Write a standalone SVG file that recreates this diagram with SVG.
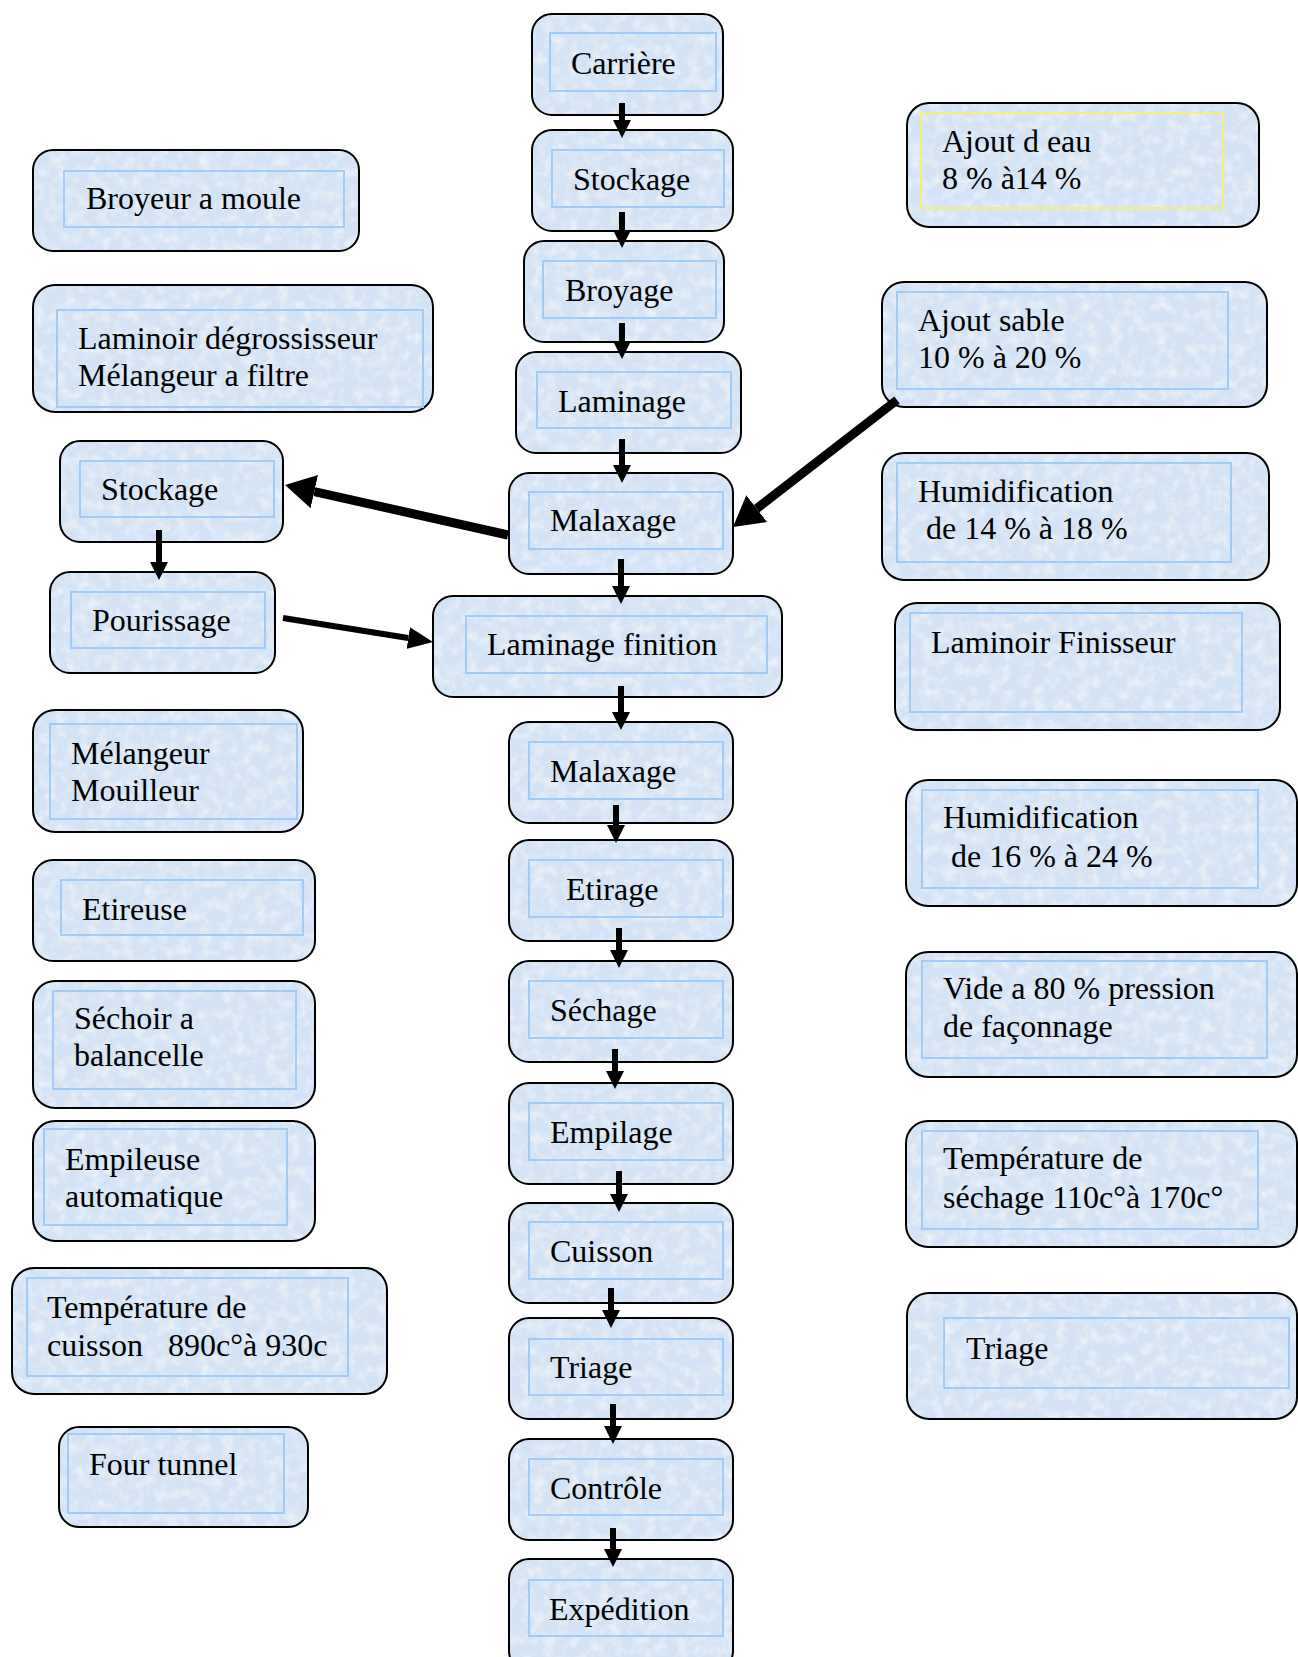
<svg xmlns="http://www.w3.org/2000/svg" width="1298" height="1657" viewBox="0 0 1298 1657">
<style>
  .box { fill: #d3e2f4; stroke: none; filter: url(#tex); }
  .edge { fill: none; stroke: #000; stroke-width: 2; }
  .in { fill: none; stroke: #9fccf7; stroke-width: 2; }
  .iny { fill: none; stroke: #f4ef7a; stroke-width: 2; }
  text { font-family: "Liberation Serif", "Times New Roman", serif; font-size: 32px; fill: #000; }
  .sm { stroke: #000; stroke-width: 6; fill: none; }
  .md { stroke: #000; stroke-width: 6; fill: none; }
  .bg { stroke: #000; stroke-width: 9; fill: none; }
</style>
<defs>
  <filter id="tex" x="0" y="0" width="100%" height="100%">
    <feTurbulence type="fractalNoise" baseFrequency="0.09" numOctaves="3" seed="7" result="n"/>
    <feColorMatrix in="n" type="matrix" values="0 0 0 0 1  0 0 0 0 1  0 0 0 0 1  0 0 0 1.1 -0.45" result="w"/>
    <feComposite in="w" in2="SourceAlpha" operator="in" result="wc"/>
    <feMerge><feMergeNode in="SourceGraphic"/><feMergeNode in="wc"/></feMerge>
  </filter>
  <marker id="hs" markerUnits="userSpaceOnUse" markerWidth="18" markerHeight="18" viewBox="0 0 18 18" refX="0" refY="9" orient="auto">
    <path d="M0,0 L18,9 L0,18 z" fill="#000"/>
  </marker>
  <marker id="hm" markerUnits="userSpaceOnUse" markerWidth="25" markerHeight="22" viewBox="0 0 25 22" refX="0" refY="11" orient="auto">
    <path d="M0,0 L25,11 L0,22 z" fill="#000"/>
  </marker>
  <marker id="hb" markerUnits="userSpaceOnUse" markerWidth="30" markerHeight="34" viewBox="0 0 30 34" refX="0" refY="17" orient="auto">
    <path d="M0,0 L30,17 L0,34 z" fill="#000"/>
  </marker>
</defs>
<rect width="1298" height="1657" fill="#fff"/>

<!-- center column -->
<g id="carriere"><rect class="box" x="532" y="14" width="191" height="101" rx="20"/><rect class="edge" x="532" y="14" width="191" height="101" rx="20"/><rect class="in" x="550" y="33" width="166" height="58"/><text x="571" y="74">Carrière</text></g>
<g id="stockage1"><rect class="box" x="532" y="130" width="201" height="101" rx="20"/><rect class="edge" x="532" y="130" width="201" height="101" rx="20"/><rect class="in" x="552" y="150" width="172" height="57"/><text x="573" y="190">Stockage</text></g>
<g id="broyage"><rect class="box" x="524" y="241" width="200" height="101" rx="20"/><rect class="edge" x="524" y="241" width="200" height="101" rx="20"/><rect class="in" x="543" y="261" width="173" height="57"/><text x="565" y="301">Broyage</text></g>
<g id="laminage"><rect class="box" x="516" y="352" width="225" height="101" rx="20"/><rect class="edge" x="516" y="352" width="225" height="101" rx="20"/><rect class="in" x="537" y="372" width="194" height="56"/><text x="558" y="412">Laminage</text></g>
<g id="malaxage1"><rect class="box" x="509" y="473" width="224" height="101" rx="20"/><rect class="edge" x="509" y="473" width="224" height="101" rx="20"/><rect class="in" x="529" y="492" width="194" height="57"/><text x="550" y="531">Malaxage</text></g>
<g id="laminage-finition"><rect class="box" x="433" y="596" width="349" height="101" rx="20"/><rect class="edge" x="433" y="596" width="349" height="101" rx="20"/><rect class="in" x="466" y="616" width="301" height="57"/><text x="487" y="655">Laminage finition</text></g>
<g id="malaxage2"><rect class="box" x="509" y="722" width="224" height="101" rx="20"/><rect class="edge" x="509" y="722" width="224" height="101" rx="20"/><rect class="in" x="529" y="742" width="194" height="57"/><text x="550" y="782">Malaxage</text></g>
<g id="etirage"><rect class="box" x="509" y="840" width="224" height="101" rx="20"/><rect class="edge" x="509" y="840" width="224" height="101" rx="20"/><rect class="in" x="529" y="860" width="194" height="57"/><text x="566" y="900">Etirage</text></g>
<g id="sechage"><rect class="box" x="509" y="961" width="224" height="101" rx="20"/><rect class="edge" x="509" y="961" width="224" height="101" rx="20"/><rect class="in" x="529" y="981" width="194" height="57"/><text x="550" y="1021">Séchage</text></g>
<g id="empilage"><rect class="box" x="509" y="1083" width="224" height="101" rx="20"/><rect class="edge" x="509" y="1083" width="224" height="101" rx="20"/><rect class="in" x="529" y="1103" width="194" height="57"/><text x="550" y="1143">Empilage</text></g>
<g id="cuisson"><rect class="box" x="509" y="1203" width="224" height="100" rx="20"/><rect class="edge" x="509" y="1203" width="224" height="100" rx="20"/><rect class="in" x="529" y="1222" width="194" height="57"/><text x="550" y="1262">Cuisson</text></g>
<g id="triage1"><rect class="box" x="509" y="1318" width="224" height="101" rx="20"/><rect class="edge" x="509" y="1318" width="224" height="101" rx="20"/><rect class="in" x="529" y="1339" width="194" height="56"/><text x="550" y="1378">Triage</text></g>
<g id="controle"><rect class="box" x="509" y="1439" width="224" height="101" rx="20"/><rect class="edge" x="509" y="1439" width="224" height="101" rx="20"/><rect class="in" x="529" y="1459" width="194" height="56"/><text x="550" y="1499">Contrôle</text></g>
<g id="expedition"><rect class="box" x="509" y="1559" width="224" height="112" rx="20"/><rect class="edge" x="509" y="1559" width="224" height="112" rx="20"/><rect class="in" x="529" y="1580" width="194" height="56"/><text x="549" y="1620">Expédition</text></g>

<!-- left column -->
<g id="broyeur-moule"><rect class="box" x="33" y="150" width="326" height="101" rx="20"/><rect class="edge" x="33" y="150" width="326" height="101" rx="20"/><rect class="in" x="64" y="171" width="280" height="56"/><text x="86" y="209">Broyeur a moule</text></g>
<g id="laminoir-degrossisseur"><rect class="box" x="33" y="285" width="400" height="127" rx="22"/><rect class="edge" x="33" y="285" width="400" height="127" rx="22"/><rect class="in" x="57" y="310" width="366" height="97"/><text x="78" y="349">Laminoir dégrossisseur</text><text x="78" y="386">Mélangeur a filtre</text></g>
<g id="stockage2"><rect class="box" x="60" y="441" width="223" height="101" rx="20"/><rect class="edge" x="60" y="441" width="223" height="101" rx="20"/><rect class="in" x="80" y="461" width="194" height="56"/><text x="101" y="500">Stockage</text></g>
<g id="pourissage"><rect class="box" x="50" y="572" width="225" height="101" rx="20"/><rect class="edge" x="50" y="572" width="225" height="101" rx="20"/><rect class="in" x="71" y="592" width="194" height="56"/><text x="92" y="631">Pourissage</text></g>
<g id="melangeur-mouilleur"><rect class="box" x="33" y="710" width="270" height="122" rx="22"/><rect class="edge" x="33" y="710" width="270" height="122" rx="22"/><rect class="in" x="50" y="724" width="247" height="95"/><text x="71" y="764">Mélangeur</text><text x="71" y="801">Mouilleur</text></g>
<g id="etireuse"><rect class="box" x="33" y="860" width="282" height="101" rx="20"/><rect class="edge" x="33" y="860" width="282" height="101" rx="20"/><rect class="in" x="61" y="880" width="242" height="55"/><text x="82" y="920">Etireuse</text></g>
<g id="sechoir"><rect class="box" x="33" y="981" width="282" height="127" rx="22"/><rect class="edge" x="33" y="981" width="282" height="127" rx="22"/><rect class="in" x="53" y="991" width="243" height="98"/><text x="74" y="1029">Séchoir a</text><text x="74" y="1066">balancelle</text></g>
<g id="empileuse"><rect class="box" x="33" y="1121" width="282" height="120" rx="22"/><rect class="edge" x="33" y="1121" width="282" height="120" rx="22"/><rect class="in" x="44" y="1129" width="243" height="96"/><text x="65" y="1170">Empileuse</text><text x="65" y="1207">automatique</text></g>
<g id="temp-cuisson"><rect class="box" x="12" y="1268" width="375" height="126" rx="22"/><rect class="edge" x="12" y="1268" width="375" height="126" rx="22"/><rect class="in" x="27" y="1278" width="321" height="98"/><text x="47" y="1318">Température de</text><text x="47" y="1356">cuisson</text><text x="168" y="1356">890c°à 930c</text></g>
<g id="four-tunnel"><rect class="box" x="59" y="1427" width="249" height="100" rx="20"/><rect class="edge" x="59" y="1427" width="249" height="100" rx="20"/><rect class="in" x="68" y="1434" width="216" height="79"/><text x="89" y="1475">Four tunnel</text></g>

<!-- right column -->
<g id="ajout-eau"><rect class="box" x="907" y="103" width="352" height="124" rx="22"/><rect class="edge" x="907" y="103" width="352" height="124" rx="22"/><rect class="iny" x="921" y="113" width="302" height="95"/><text x="942" y="152">Ajout d eau</text><text x="942" y="189">8 % à14 %</text></g>
<g id="ajout-sable"><rect class="box" x="882" y="282" width="385" height="125" rx="22"/><rect class="edge" x="882" y="282" width="385" height="125" rx="22"/><rect class="in" x="897" y="292" width="331" height="97"/><text x="918" y="331">Ajout sable</text><text x="918" y="368">10 % à 20 %</text></g>
<g id="humid1"><rect class="box" x="882" y="453" width="387" height="127" rx="22"/><rect class="edge" x="882" y="453" width="387" height="127" rx="22"/><rect class="in" x="897" y="463" width="334" height="99"/><text x="918" y="502">Humidification</text><text x="926" y="539">de 14 % à 18 %</text></g>
<g id="laminoir-finisseur"><rect class="box" x="895" y="603" width="385" height="127" rx="22"/><rect class="edge" x="895" y="603" width="385" height="127" rx="22"/><rect class="in" x="910" y="613" width="332" height="99"/><text x="931" y="653">Laminoir Finisseur</text></g>
<g id="humid2"><rect class="box" x="906" y="780" width="391" height="126" rx="22"/><rect class="edge" x="906" y="780" width="391" height="126" rx="22"/><rect class="in" x="922" y="790" width="336" height="98"/><text x="943" y="828">Humidification</text><text x="951" y="867">de 16 % à 24 %</text></g>
<g id="vide"><rect class="box" x="906" y="952" width="391" height="125" rx="22"/><rect class="edge" x="906" y="952" width="391" height="125" rx="22"/><rect class="in" x="922" y="961" width="345" height="97"/><text x="943" y="999">Vide a 80 % pression</text><text x="943" y="1037">de façonnage</text></g>
<g id="temp-sechage"><rect class="box" x="906" y="1121" width="391" height="126" rx="22"/><rect class="edge" x="906" y="1121" width="391" height="126" rx="22"/><rect class="in" x="922" y="1131" width="336" height="98"/><text x="943" y="1169">Température de</text><text x="943" y="1208">séchage 110c°à 170c°</text></g>
<g id="triage2"><rect class="box" x="907" y="1293" width="390" height="126" rx="22"/><rect class="edge" x="907" y="1293" width="390" height="126" rx="22"/><rect class="in" x="944" y="1318" width="345" height="70"/><text x="966" y="1359">Triage</text></g>

<!-- connectors -->
<g id="connectors">
  <line class="sm" x1="622" y1="103" x2="622" y2="120" marker-end="url(#hs)"/>
  <line class="sm" x1="622" y1="212" x2="622" y2="230" marker-end="url(#hs)"/>
  <line class="sm" x1="622" y1="323" x2="622" y2="341" marker-end="url(#hs)"/>
  <line class="sm" x1="622" y1="439" x2="622" y2="465" marker-end="url(#hs)"/>
  <line class="sm" x1="621" y1="559" x2="621" y2="586" marker-end="url(#hs)"/>
  <line class="sm" x1="621" y1="686" x2="621" y2="712" marker-end="url(#hs)"/>
  <line class="sm" x1="616" y1="805" x2="616" y2="825" marker-end="url(#hs)"/>
  <line class="sm" x1="619" y1="928" x2="619" y2="950" marker-end="url(#hs)"/>
  <line class="sm" x1="615" y1="1049" x2="615" y2="1071" marker-end="url(#hs)"/>
  <line class="sm" x1="619" y1="1171" x2="619" y2="1194" marker-end="url(#hs)"/>
  <line class="sm" x1="611" y1="1288" x2="611" y2="1310" marker-end="url(#hs)"/>
  <line class="sm" x1="613" y1="1404" x2="613" y2="1426" marker-end="url(#hs)"/>
  <line class="sm" x1="613" y1="1528" x2="613" y2="1549" marker-end="url(#hs)"/>
  <line class="sm" x1="159" y1="530" x2="159" y2="562" marker-end="url(#hs)"/>
  <line class="md" x1="283" y1="618" x2="408.3" y2="638" marker-end="url(#hm)"/>
  <line class="bg" x1="508" y1="535" x2="314.3" y2="491.6" marker-end="url(#hb)"/>
  <line class="bg" x1="897" y1="400" x2="756.7" y2="508.6" marker-end="url(#hb)"/>
</g>
</svg>
